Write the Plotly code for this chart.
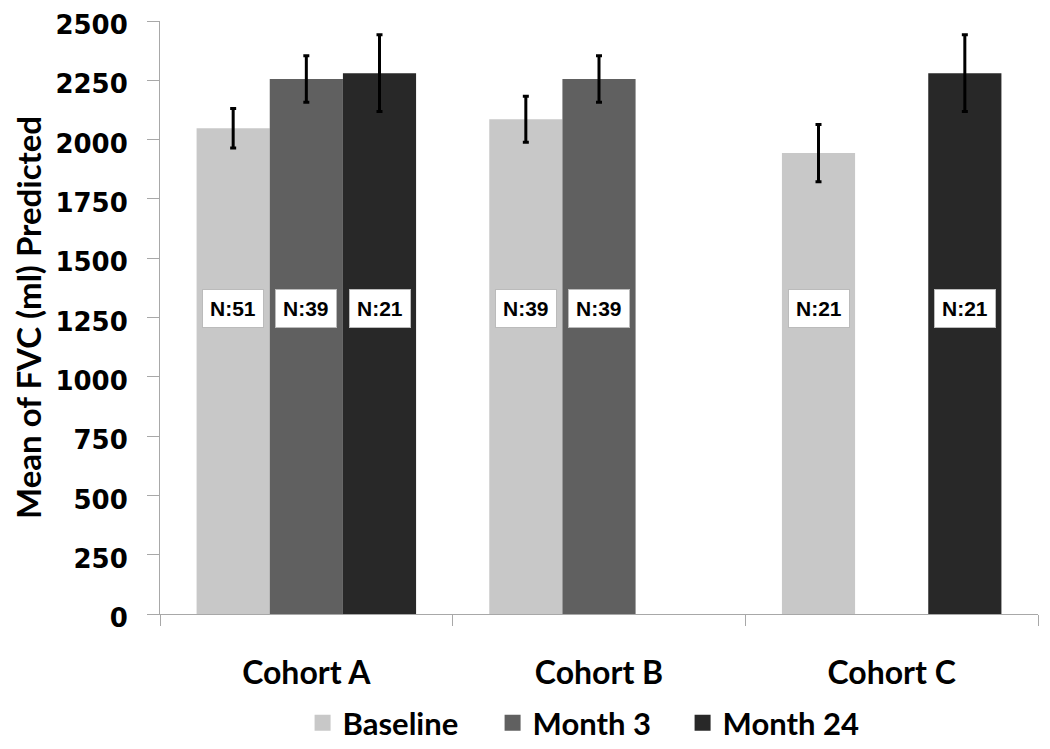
import plotly.graph_objects as go

categories = ["Cohort A", "Cohort B", "Cohort C"]
series_names = ["Baseline", "Month 3", "Month 24"]
baseline = [2048, 2086, 1943]
baseline_err = [83, 97, 121]
month3 = [2255, 2255, None]
month3_err = [98, 98, None]
month24 = [2280, None, 2280]
month24_err = [162, None, 162]
n_labels = [["N:51", "N:39", "N:21"], ["N:39", "N:39", None], ["N:21", None, "N:21"]]
label_level = 1290
y_ticks = [0, 250, 500, 750, 1000, 1250, 1500, 1750, 2000, 2250, 2500]

colors = ["#c8c8c8", "#606060", "#282828"]
values = [baseline, month3, month24]
errors = [baseline_err, month3_err, month24_err]

# page body adds an 8px margin, so the figure is sized to fit the window
W, H = 1042, 741
ML, MR, MT, MB = 152, 12, 13, 135

fig = go.Figure()
for name, vals, errs, col in zip(series_names, values, errors, colors):
    fig.add_trace(go.Bar(
        x=categories, y=vals, name=name, showlegend=False,
        marker=dict(color=col, line=dict(width=0)),
        error_y=dict(type="data", array=[e if e is not None else 0 for e in errs],
                     color="black", thickness=3, width=3),
    ))
# legend entries with larger square symbols
for name, col in zip(series_names, colors):
    fig.add_trace(go.Scatter(
        x=[None], y=[None], mode="markers", name=name,
        marker=dict(symbol="square", size=18, color=col),
        showlegend=True,
    ))

bargap = 0.25
nser = len(series_names)
bw = (1 - bargap) / nser
annotations = []
for ci, row in enumerate(n_labels):
    for si, lab in enumerate(row):
        if lab is None:
            continue
        annotations.append(dict(
            x=ci + (si - (nser - 1) / 2) * bw, y=label_level, xref="x2", yref="y",
            text=lab, showarrow=False, bgcolor="white", bordercolor="#bbbbbb",
            borderwidth=1, borderpad=7,
            font=dict(family="Liberation Sans", size=21, color="black", weight="bold"),
        ))

plot_w = W - ML - MR
plot_h = H - MT - MB
fig.update_layout(
    width=W, height=H,
    margin=dict(l=ML, r=MR, t=MT, b=MB),
    paper_bgcolor="white", plot_bgcolor="white",
    barmode="group", bargap=bargap, bargroupgap=0,
    showlegend=True,
    legend=dict(orientation="h", x=0.487, xanchor="center", xref="paper",
                yref="container", y=1 - 715 / H, yanchor="middle",
                font=dict(family="Lato", size=31, color="black", weight="bold"),
                itemwidth=30, entrywidth=145, traceorder="normal", tracegroupgap=0),
    annotations=annotations,
    shapes=[dict(type="line", xref="paper", yref="paper",
                 x0=1 + (MR - 2) / plot_w, x1=1 + (MR - 2) / plot_w,
                 y0=-MB / plot_h, y1=1 + MT / plot_h,
                 line=dict(color="#c8c8c8", width=2))],
    xaxis=dict(type="category", showline=True, linecolor="#a8a8a8", linewidth=1,
               ticks="outside", tickson="boundaries", ticklen=11, tickcolor="#a8a8a8",
               showgrid=False, automargin=False,
               tickfont=dict(family="Lato", size=32, color="black", weight="bold"),
               ticklabelstandoff=31, range=[-0.5, 2.5]),
    xaxis2=dict(overlaying="x", range=[-0.5, 2.5], visible=False),
    yaxis=dict(range=[0, 2500], tickvals=y_ticks, showline=True, linecolor="#a8a8a8",
               linewidth=1, ticks="outside", ticklen=12, tickcolor="#a8a8a8",
               showgrid=False, zeroline=False, automargin=False,
               ticklabeloverflow="allow", ticklabelshift=4,
               tickfont=dict(family="DejaVu Sans", size=26, color="black", weight="bold"),
               ticklabelstandoff=14,
               title=dict(text="Mean of FVC (ml) Predicted", standoff=6,
                          font=dict(family="Lato", size=33, color="black", weight="bold"))),
)

fig.write_html("out.html")
